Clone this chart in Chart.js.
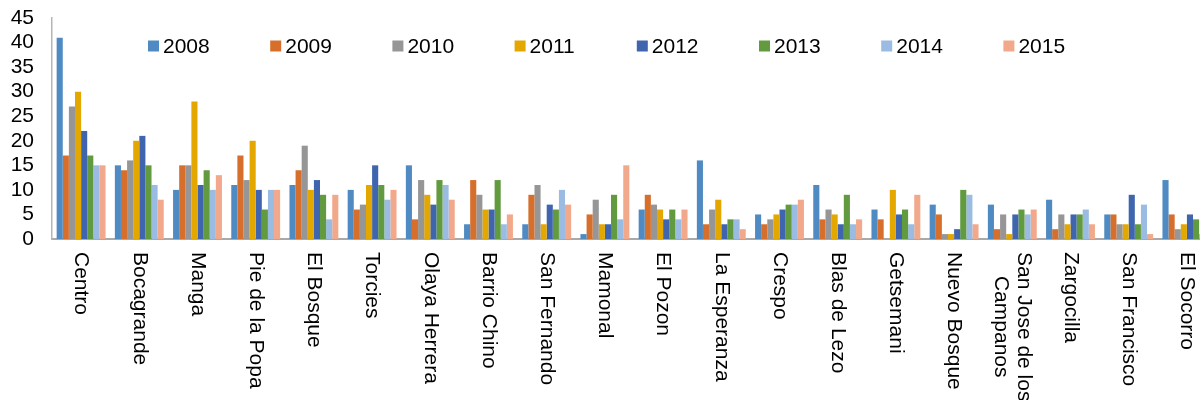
<!DOCTYPE html>
<html lang="es">
<head>
  <meta charset="UTF-8">
  <title>Casos por barrio 2008-2015</title>
  <script src="https://cdn.jsdelivr.net/npm/chart.js"></script>
  <style>
    html, body { margin: 0; padding: 0; background: #fff; overflow: hidden; }
    #chart { display: block; }
  </style>
</head>
<body>
  <canvas id="chart" width="1222" height="400"></canvas>

  <script>
    const barrios = [
      'Centro', 'Bocagrande', 'Manga', 'Pie de la Popa', 'El Bosque', 'Torcies',
      'Olaya Herrera', 'Barrio Chino', 'San Fernando', 'Mamonal', 'El Pozon',
      'La Esperanza', 'Crespo', 'Blas de Lezo', 'Getsemani', 'Nuevo Bosque',
      ['San Jose de los', 'Campanos'], 'Zargocilla', 'San Francisco', 'El Socorro'
    ];
    const years = ['2008', '2009', '2010', '2011', '2012', '2013', '2014', '2015'];

    const v2008 = [41, 15, 10, 11, 11, 10, 15, 3, 3, 1, 6, 16, 5, 11, 6, 7, 7, 8, 5, 12];
    const v2009 = [17, 14, 15, 17, 14, 6, 4, 12, 9, 5, 9, 3, 3, 4, 4, 5, 2, 2, 5, 5];
    const v2010 = [27, 16, 15, 12, 19, 7, 12, 9, 11, 8, 7, 6, 4, 6, 0, 1, 5, 5, 3, 2];
    const v2011 = [30, 20, 28, 20, 10, 11, 9, 6, 3, 3, 6, 8, 5, 5, 10, 1, 1, 3, 3, 3];
    const v2012 = [22, 21, 11, 10, 12, 15, 7, 6, 7, 3, 4, 3, 6, 3, 5, 2, 5, 5, 9, 5];
    const v2013 = [17, 15, 14, 6, 9, 11, 12, 12, 6, 9, 6, 4, 7, 9, 6, 10, 6, 5, 3, 4];
    const v2014 = [15, 11, 10, 10, 4, 8, 11, 3, 10, 4, 4, 4, 7, 3, 3, 9, 5, 6, 7, 1];
    const v2015 = [15, 8, 13, 10, 9, 10, 8, 5, 7, 15, 6, 2, 8, 4, 9, 3, 6, 3, 1, 2];

    const yTicks = [0, 5, 10, 15, 20, 25, 30, 35, 40, 45];

    const series = [v2008, v2009, v2010, v2011, v2012, v2013, v2014, v2015];
    const colors = ['#4f8bc2', '#d66f2b', '#969696', '#e3a700', '#3e65ae', '#629b3f', '#9bbce2', '#f2a98b'];

    const FONT = "'Liberation Sans', Arial, sans-serif";

    // legend inside the plot, in one row at the top
    const insideLegend = {
      id: 'insideLegend',
      afterDraw(chart) {
        const ctx = chart.ctx;
        const area = chart.chartArea;
        ctx.save();
        ctx.font = '21px ' + FONT;
        ctx.textBaseline = 'middle';
        ctx.textAlign = 'left';
        chart.data.datasets.forEach((ds, i) => {
          const x = area.left + 96 + i * 122.2;
          const y = 46;
          ctx.fillStyle = ds.backgroundColor;
          ctx.fillRect(x, y - 5.5, 11, 11);
          ctx.fillStyle = '#000';
          ctx.fillText(ds.label, x + 15, y + 1);
        });
        ctx.restore();
      }
    };

    // category labels turned 90deg clockwise, reading downwards
    const downLabels = {
      id: 'downLabels',
      afterDraw(chart) {
        const ctx = chart.ctx;
        const xScale = chart.scales.x;
        const top = chart.chartArea.bottom + 13;
        const lineH = 23;
        ctx.save();
        ctx.font = '21px ' + FONT;
        ctx.fillStyle = '#000';
        ctx.textBaseline = 'middle';
        chart.data.labels.forEach((label, i) => {
          const lines = Array.isArray(label) ? label : [label];
          const widest = Math.max(...lines.map(l => ctx.measureText(l).width));
          ctx.save();
          ctx.translate(xScale.getPixelForTick(i), top);
          ctx.rotate(Math.PI / 2);
          ctx.textAlign = 'center';
          lines.forEach((line, k) => {
            const off = (k - (lines.length - 1) / 2) * lineH;
            ctx.fillText(line, widest / 2, off);
          });
          ctx.restore();
        });
        ctx.restore();
      }
    };

    new Chart(document.getElementById('chart'), {
      type: 'bar',
      data: {
        labels: barrios,
        datasets: years.map((y, i) => ({
          label: y,
          data: series[i],
          backgroundColor: colors[i],
          borderWidth: 0,
          categoryPercentage: 0.84,
          barPercentage: 1
        }))
      },
      options: {
        responsive: false,
        animation: false,
        layout: { padding: { top: 0, right: 6, left: 0, bottom: 0 } },
        plugins: {
          legend: { display: false },
          tooltip: { enabled: false }
        },
        scales: {
          x: {
            grid: { display: false, drawTicks: false },
            border: { display: true, color: '#a9a9a9', width: 2 },
            ticks: { display: false },
            afterFit(scale) { scale.height = 161; }
          },
          y: {
            min: 0,
            max: 45,
            afterBuildTicks(scale) { scale.ticks = yTicks.map(v => ({ value: v })); },
            grid: { display: false, drawTicks: false },
            border: { display: true, color: '#b5b5b5', width: 1.5 },
            ticks: {
              autoSkip: false,
              padding: 18,
              color: '#000',
              font: { family: FONT, size: 21 }
            },
            afterFit(scale) {
              scale.width = 52;
              scale.paddingTop = 18;
              scale.paddingBottom = 0;
            }
          }
        }
      },
      plugins: [insideLegend, downLabels]
    });
  </script>
</body>
</html>
